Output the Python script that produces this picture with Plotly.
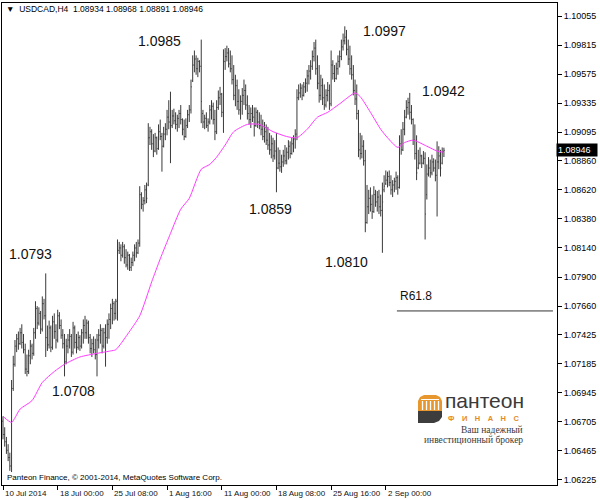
import plotly.graph_objects as go

# ---------------- data ----------------
symbol_title = "USDCAD,H4"
last_quote = ["1.08934", "1.08968", "1.08891", "1.08946"]
last_price = 1.08946

open_ = [
    1.0671, 1.0660, 1.0654, 1.0647, 1.0641, 1.0634, 1.0698, 1.0718, 1.0733, 1.0739,
    1.0735, 1.0744, 1.0736, 1.0730, 1.0714, 1.0712, 1.0725, 1.0733, 1.0727, 1.0744,
    1.0764, 1.0752, 1.0760, 1.0747, 1.0768, 1.0758, 1.0740, 1.0734, 1.0748, 1.0732,
    1.0753, 1.0745, 1.0738, 1.0758, 1.0750, 1.0742, 1.0735, 1.0720, 1.0733, 1.0738,
    1.0741, 1.0728, 1.0748, 1.0736, 1.0732, 1.0740, 1.0733, 1.0744, 1.0750, 1.0744,
    1.0752, 1.0740, 1.0731, 1.0735, 1.0730, 1.0726, 1.0738, 1.0742, 1.0746, 1.0733,
    1.0744, 1.0740, 1.0751, 1.0755, 1.0764, 1.0768, 1.0760, 1.0770, 1.0812, 1.0814,
    1.0808, 1.0815, 1.0806, 1.0800, 1.0808, 1.0798, 1.0802, 1.0808, 1.0814, 1.0810,
    1.0818, 1.0858, 1.0850, 1.0853, 1.0862, 1.0866, 1.0905, 1.0910, 1.0900, 1.0894,
    1.0905, 1.0896, 1.0910, 1.0906, 1.0898, 1.0908, 1.0912, 1.0922, 1.0918, 1.0915,
    1.0923, 1.0919, 1.0916, 1.0921, 1.0925, 1.0920, 1.0912, 1.0906, 1.0915, 1.0924,
    1.0928, 1.0952, 1.0965, 1.0970, 1.0962, 1.0968, 1.0964, 1.0925, 1.0918, 1.0921,
    1.0915, 1.0918, 1.0928, 1.0931, 1.0920, 1.0910, 1.0930, 1.0938, 1.0941, 1.0926,
    1.0968, 1.0972, 1.0975, 1.0966, 1.0962, 1.0953, 1.0940, 1.0948, 1.0935, 1.0928,
    1.0935, 1.0940, 1.0944, 1.0932, 1.0925, 1.0920, 1.0925, 1.0922, 1.0915, 1.0926,
    1.0918, 1.0915, 1.0912, 1.0906, 1.0910, 1.0903, 1.0899, 1.0895, 1.0900, 1.0890,
    1.0894, 1.0880, 1.0884, 1.0881, 1.0885, 1.0890, 1.0886, 1.0893, 1.0898, 1.0892,
    1.0900, 1.0904, 1.0908, 1.0938, 1.0942, 1.0946, 1.0940, 1.0947, 1.0950, 1.0956,
    1.0960, 1.0964, 1.0972, 1.0979, 1.0962, 1.0950, 1.0940, 1.0948, 1.0938, 1.0932,
    1.0940, 1.0944, 1.0933, 1.0965, 1.0958, 1.0954, 1.0962, 1.0968, 1.0972, 1.0980,
    1.0985, 1.0988, 1.0978, 1.0970, 1.0962, 1.0957, 1.0944, 1.0937, 1.0925, 1.0895,
    1.0892, 1.0898, 1.0886, 1.0835, 1.0848, 1.0855, 1.0850, 1.0844, 1.0858, 1.0852,
    1.0856, 1.0848, 1.0845, 1.0862, 1.0867, 1.0870, 1.0873, 1.0868, 1.0862, 1.0866,
    1.0869, 1.0872, 1.0864, 1.0900, 1.0895, 1.0912, 1.0922, 1.0930, 1.0934, 1.0926,
    1.0920, 1.0903, 1.0892, 1.0880, 1.0884, 1.0890, 1.0884, 1.0888, 1.0858, 1.0875,
    1.0880, 1.0876, 1.0885, 1.0880, 1.0874, 1.0885, 1.0890, 1.0884, 1.08934,
]
high = [
    1.0675, 1.0666, 1.0658, 1.0652, 1.0645, 1.0705, 1.0725, 1.0738, 1.0743, 1.0745,
    1.0748, 1.0751, 1.0743, 1.0735, 1.0726, 1.0730, 1.0738, 1.0735, 1.0748, 1.0770,
    1.0766, 1.0765, 1.0762, 1.0774, 1.0772, 1.0793, 1.0750, 1.0754, 1.0750, 1.0758,
    1.0760, 1.0751, 1.0763, 1.0761, 1.0755, 1.0747, 1.0743, 1.0739, 1.0743, 1.0747,
    1.0743, 1.0753, 1.0750, 1.0743, 1.0745, 1.0742, 1.0747, 1.0755, 1.0758, 1.0755,
    1.0754, 1.0743, 1.0739, 1.0741, 1.0739, 1.0743, 1.0747, 1.0751, 1.0748, 1.0748,
    1.0751, 1.0755, 1.0760, 1.0768, 1.0772, 1.0770, 1.0772, 1.0821, 1.0819, 1.0817,
    1.0819, 1.0817, 1.0813, 1.0811, 1.0809, 1.0806, 1.0811, 1.0817, 1.0819, 1.0821,
    1.0865, 1.0860, 1.0856, 1.0866, 1.0868, 1.0917, 1.0914, 1.0912, 1.0908, 1.0909,
    1.0906, 1.0916, 1.0920, 1.0909, 1.0914, 1.0917, 1.0928, 1.0936, 1.0943, 1.0928,
    1.0929, 1.0926, 1.0924, 1.0928, 1.0932, 1.0921, 1.0920, 1.0921, 1.0928, 1.0932,
    1.0953, 1.0973, 1.0977, 1.0973, 1.0971, 1.0969, 1.0986, 1.0928, 1.0924, 1.0926,
    1.0921, 1.0932, 1.0936, 1.0934, 1.0928, 1.0936, 1.0944, 1.0947, 1.0942, 1.0978,
    1.0979, 1.0981, 1.0979, 1.0977, 1.0973, 1.0965, 1.0957, 1.0953, 1.0945, 1.0940,
    1.0946, 1.0953, 1.0949, 1.0940, 1.0932, 1.0930, 1.0932, 1.0930, 1.0930, 1.0928,
    1.0926, 1.0924, 1.0920, 1.0918, 1.0916, 1.0914, 1.0909, 1.0907, 1.0905, 1.0903,
    1.0909, 1.0897, 1.0895, 1.0891, 1.0895, 1.0899, 1.0897, 1.0903, 1.0902, 1.0905,
    1.0907, 1.0912, 1.0945, 1.0949, 1.0950, 1.0949, 1.0951, 1.0954, 1.0961, 1.0965,
    1.0969, 1.0977, 1.0984, 1.0986, 1.0973, 1.0965, 1.0957, 1.0954, 1.0949, 1.0945,
    1.0951, 1.0949, 1.0977, 1.0969, 1.0965, 1.0967, 1.0973, 1.0977, 1.0986, 1.0991,
    1.0997, 1.0994, 1.0986, 1.0981, 1.0973, 1.0965, 1.0953, 1.0949, 1.0928, 1.0909,
    1.0907, 1.0903, 1.0895, 1.0866, 1.0862, 1.0864, 1.0858, 1.0865, 1.0862, 1.0861,
    1.0862, 1.0858, 1.0868, 1.0874, 1.0878, 1.0877, 1.0878, 1.0874, 1.0870, 1.0872,
    1.0877, 1.0874, 1.0907, 1.0912, 1.0918, 1.0928, 1.0936, 1.0938, 1.0942, 1.0932,
    1.0921, 1.0916, 1.0907, 1.0895, 1.0897, 1.0891, 1.0894, 1.0893, 1.0883, 1.0889,
    1.0887, 1.0891, 1.0888, 1.0887, 1.0902, 1.0898, 1.0895, 1.0897, 1.08968,
]
low = [
    1.0656, 1.0650, 1.0644, 1.0638, 1.0630, 1.0629, 1.0696, 1.0716, 1.0728, 1.0730,
    1.0734, 1.0731, 1.0727, 1.0710, 1.0708, 1.0710, 1.0718, 1.0722, 1.0725, 1.0739,
    1.0747, 1.0750, 1.0743, 1.0745, 1.0755, 1.0724, 1.0729, 1.0731, 1.0728, 1.0730,
    1.0739, 1.0731, 1.0736, 1.0747, 1.0739, 1.0731, 1.0708, 1.0718, 1.0727, 1.0731,
    1.0724, 1.0726, 1.0731, 1.0727, 1.0730, 1.0729, 1.0731, 1.0735, 1.0739, 1.0739,
    1.0735, 1.0727, 1.0724, 1.0727, 1.0722, 1.0708, 1.0731, 1.0735, 1.0727, 1.0731,
    1.0716, 1.0735, 1.0739, 1.0747, 1.0751, 1.0754, 1.0755, 1.0754, 1.0809, 1.0803,
    1.0806, 1.0801, 1.0798, 1.0796, 1.0795, 1.0795, 1.0799, 1.0803, 1.0806, 1.0809,
    1.0815, 1.0846, 1.0844, 1.0850, 1.0851, 1.0865, 1.0899, 1.0895, 1.0889, 1.0893,
    1.0891, 1.0895, 1.0903, 1.0877, 1.0897, 1.0903, 1.0907, 1.0912, 1.0884, 1.0913,
    1.0916, 1.0912, 1.0910, 1.0913, 1.0916, 1.0907, 1.0903, 1.0905, 1.0913, 1.0918,
    1.0925, 1.0951, 1.0959, 1.0957, 1.0955, 1.0959, 1.0917, 1.0913, 1.0912, 1.0913,
    1.0910, 1.0916, 1.0920, 1.0916, 1.0903, 1.0908, 1.0928, 1.0932, 1.0922, 1.0909,
    1.0961, 1.0968, 1.0963, 1.0959, 1.0949, 1.0936, 1.0931, 1.0928, 1.0924, 1.0920,
    1.0924, 1.0932, 1.0928, 1.0920, 1.0916, 1.0913, 1.0918, 1.0906, 1.0914, 1.0913,
    1.0912, 1.0907, 1.0903, 1.0901, 1.0899, 1.0895, 1.0891, 1.0888, 1.0885, 1.0887,
    1.0860, 1.0879, 1.0877, 1.0876, 1.0881, 1.0883, 1.0883, 1.0887, 1.0888, 1.0891,
    1.0893, 1.0896, 1.0903, 1.0936, 1.0938, 1.0936, 1.0939, 1.0942, 1.0943, 1.0949,
    1.0953, 1.0961, 1.0968, 1.0957, 1.0945, 1.0934, 1.0936, 1.0932, 1.0928, 1.0930,
    1.0935, 1.0928, 1.0931, 1.0953, 1.0951, 1.0953, 1.0957, 1.0963, 1.0969, 1.0977,
    1.0982, 1.0973, 1.0965, 1.0957, 1.0953, 1.0940, 1.0932, 1.0920, 1.0889, 1.0887,
    1.0888, 1.0882, 1.0827, 1.0834, 1.0842, 1.0844, 1.0838, 1.0843, 1.0848, 1.0844,
    1.0842, 1.0840, 1.0810, 1.0860, 1.0866, 1.0864, 1.0865, 1.0858, 1.0856, 1.0860,
    1.0862, 1.0858, 1.0863, 1.0891, 1.0894, 1.0907, 1.0921, 1.0924, 1.0920, 1.0916,
    1.0899, 1.0887, 1.0870, 1.0879, 1.0883, 1.0880, 1.0883, 1.0821, 1.0854, 1.0873,
    1.0872, 1.0874, 1.0877, 1.0869, 1.0840, 1.0879, 1.0873, 1.0883, 1.08891,
]
close = [
    1.0660, 1.0654, 1.0647, 1.0641, 1.0634, 1.0698, 1.0718, 1.0733, 1.0739, 1.0735,
    1.0744, 1.0736, 1.0730, 1.0714, 1.0712, 1.0725, 1.0733, 1.0727, 1.0744, 1.0764,
    1.0752, 1.0760, 1.0747, 1.0768, 1.0758, 1.0740, 1.0734, 1.0748, 1.0732, 1.0753,
    1.0745, 1.0738, 1.0758, 1.0750, 1.0742, 1.0735, 1.0720, 1.0733, 1.0738, 1.0741,
    1.0728, 1.0748, 1.0736, 1.0732, 1.0740, 1.0733, 1.0744, 1.0750, 1.0744, 1.0752,
    1.0740, 1.0731, 1.0735, 1.0730, 1.0726, 1.0738, 1.0742, 1.0746, 1.0733, 1.0744,
    1.0740, 1.0751, 1.0755, 1.0764, 1.0768, 1.0760, 1.0770, 1.0812, 1.0814, 1.0808,
    1.0815, 1.0806, 1.0800, 1.0808, 1.0798, 1.0802, 1.0808, 1.0814, 1.0810, 1.0818,
    1.0858, 1.0850, 1.0853, 1.0862, 1.0855, 1.0905, 1.0910, 1.0900, 1.0894, 1.0905,
    1.0896, 1.0910, 1.0906, 1.0898, 1.0908, 1.0912, 1.0922, 1.0918, 1.0915, 1.0923,
    1.0919, 1.0916, 1.0921, 1.0925, 1.0920, 1.0912, 1.0906, 1.0915, 1.0924, 1.0928,
    1.0947, 1.0965, 1.0970, 1.0962, 1.0968, 1.0964, 1.0935, 1.0918, 1.0921, 1.0915,
    1.0918, 1.0928, 1.0931, 1.0920, 1.0910, 1.0930, 1.0938, 1.0941, 1.0926, 1.0968,
    1.0972, 1.0975, 1.0966, 1.0962, 1.0953, 1.0940, 1.0948, 1.0935, 1.0928, 1.0935,
    1.0940, 1.0944, 1.0932, 1.0925, 1.0920, 1.0925, 1.0922, 1.0915, 1.0926, 1.0918,
    1.0915, 1.0912, 1.0906, 1.0910, 1.0903, 1.0899, 1.0895, 1.0900, 1.0890, 1.0894,
    1.0880, 1.0884, 1.0881, 1.0885, 1.0890, 1.0886, 1.0893, 1.0898, 1.0892, 1.0900,
    1.0904, 1.0908, 1.0938, 1.0942, 1.0946, 1.0940, 1.0947, 1.0950, 1.0956, 1.0960,
    1.0964, 1.0972, 1.0979, 1.0962, 1.0950, 1.0940, 1.0948, 1.0938, 1.0932, 1.0940,
    1.0944, 1.0933, 1.0965, 1.0958, 1.0954, 1.0962, 1.0968, 1.0972, 1.0980, 1.0985,
    1.0988, 1.0978, 1.0970, 1.0962, 1.0957, 1.0944, 1.0937, 1.0925, 1.0895, 1.0892,
    1.0898, 1.0886, 1.0835, 1.0848, 1.0855, 1.0850, 1.0844, 1.0858, 1.0852, 1.0856,
    1.0848, 1.0845, 1.0852, 1.0865, 1.0870, 1.0873, 1.0868, 1.0862, 1.0866, 1.0869,
    1.0872, 1.0864, 1.0900, 1.0895, 1.0912, 1.0922, 1.0930, 1.0934, 1.0926, 1.0920,
    1.0903, 1.0892, 1.0876, 1.0884, 1.0890, 1.0884, 1.0888, 1.0842, 1.0875, 1.0880,
    1.0876, 1.0885, 1.0880, 1.0874, 1.0885, 1.0890, 1.0880, 1.0893, 1.08946,
]
assert len(open_) == len(high) == len(low) == len(close)
bar_idx = list(range(len(close)))

# moving average (magenta), sampled along the bar index
ma_idx = [0, 5, 10, 17, 23, 30, 36, 45, 55, 63, 66, 73, 80, 87, 92, 98, 104, 109,
          116, 121, 125, 130, 135, 143, 150, 158, 166, 172, 178, 184, 190, 197,
          206, 209, 215, 221, 225, 231, 235, 240, 248, 254, 258]
ma_val = [1.0675, 1.0670, 1.0681, 1.0688, 1.0703, 1.0712, 1.0718, 1.0724, 1.0727,
          1.0729, 1.0730, 1.0743, 1.0758, 1.0786, 1.0805, 1.0826, 1.0846, 1.0855,
          1.0879, 1.0883, 1.0889, 1.0899, 1.0910, 1.0916, 1.0916, 1.0910, 1.0906,
          1.0905, 1.0912, 1.0922, 1.0926, 1.0933, 1.0942, 1.0939, 1.0926, 1.0912,
          1.0905, 1.0897, 1.0901, 1.0903, 1.0898, 1.0894, 1.0893]

# x axis labels (every 32 bars)
date_tick_idx = [0, 32, 64, 96, 128, 160, 192, 224]
date_labels = ["10 Jul 2014", "18 Jul 00:00", "25 Jul 08:00", "1 Aug 16:00",
               "11 Aug 00:00", "18 Aug 08:00", "25 Aug 16:00", "2 Sep 00:00"]

# price scale labels
price_ticks = [1.10055, 1.09815, 1.09575, 1.09335, 1.09095, 1.08860, 1.08620,
               1.08380, 1.08140, 1.07900, 1.07660, 1.07425, 1.07185, 1.06945,
               1.06705, 1.06465, 1.06225]

# level annotations
level_texts = ["1.0793", "1.0708", "1.0985", "1.0859", "1.0997", "1.0810", "1.0942"]
r618_text = "R61.8"
r618_level = 1.0762

# ---------------- layout helpers ----------------
W, H = 600, 500
ML, MR, MT, MB = 2, 43, 3, 15
PW, PH = W - ML - MR, H - MT - MB
BAR_DX = 1.709      # pixels per bar
X0PX = 3            # pixel x of bar 0
PX_PER_UNIT = 12113.0
Y_REF_PX, Y_REF_P = 16, 1.10055


def px(x):
    return (x - ML) / PW


def py(y):
    return (H - MB - y) / PH


x_range = [(ML - X0PX) / BAR_DX, (ML + PW - X0PX) / BAR_DX]
y_range = [Y_REF_P - (MT + PH - Y_REF_PX) / PX_PER_UNIT,
           Y_REF_P + (Y_REF_PX - MT) / PX_PER_UNIT]

FONT = "Liberation Sans, Arial, sans-serif"
SERIF = "Liberation Serif, Times New Roman, serif"
BAR_COLOR = "#3a3a3a"

fig = go.Figure()
fig.add_trace(go.Ohlc(
    x=bar_idx, open=open_, high=high, low=low, close=close,
    increasing=dict(line=dict(color=BAR_COLOR, width=1)),
    decreasing=dict(line=dict(color=BAR_COLOR, width=1)),
    tickwidth=0.45, hoverinfo="skip", showlegend=False,
))
fig.add_trace(go.Scatter(
    x=ma_idx, y=ma_val, mode="lines",
    line=dict(color="#ff3cff", width=1, shape="spline", smoothing=0.6),
    hoverinfo="skip", showlegend=False,
))

annotations = []
# level labels (anchored in data coordinates)
level_anchor = [(15.8, 1.08090), (41.5, 1.06959), (91.3, 1.09849), (156.8, 1.08462),
                (223.5, 1.09931), (200.7, 1.08024), (257.5, 1.09436)]
for txt, (ax, ay) in zip(level_texts, level_anchor):
    annotations.append(dict(x=ax, y=ay, xref="x", yref="y", text=txt, showarrow=False,
                            font=dict(family=FONT, size=14, color="#111111"),
                            xanchor="center", yanchor="middle"))
annotations.append(dict(x=241.7, y=1.07743, xref="x", yref="y", text=r618_text,
                        showarrow=False, font=dict(family=FONT, size=12, color="#111111"),
                        xanchor="center", yanchor="middle"))

# date labels, left-aligned at their ticks
for i, txt in zip(date_tick_idx, date_labels):
    annotations.append(dict(x=i, y=0, xref="x", yref="paper", text=txt, showarrow=False,
                            font=dict(family=FONT, size=8, color="#111111"),
                            xanchor="left", yanchor="top", xshift=0, yshift=-2))

# chart title inside the plot
annotations.append(dict(x=px(4), y=py(9), xref="paper", yref="paper",
                        text="▼\u00a0\u00a0" + symbol_title + "\u00a0\u00a0" + " ".join(last_quote),
                        showarrow=False, font=dict(family=FONT, size=8.5, color="#000000"),
                        xanchor="left", yanchor="middle"))
# copyright line
annotations.append(dict(x=px(5), y=py(477), xref="paper", yref="paper",
                        text="Panteon Finance, © 2001-2014, MetaQuotes Software Corp.",
                        showarrow=False, font=dict(family=FONT, size=8, color="#000000"),
                        xanchor="left", yanchor="middle"))
# current price marker on the price scale
annotations.append(dict(x=1, y=last_price, xref="paper", yref="y", text=last_quote[-1],
                        showarrow=False, font=dict(family=FONT, size=9, color="#ffffff"),
                        bgcolor="#000000", xanchor="left", yanchor="middle",
                        xshift=-1, borderpad=1, width=38, align="left"))

# logo texts
annotations.append(dict(x=px(443), y=py(400), xref="paper", yref="paper", text="пантеон",
                        showarrow=False, font=dict(family=FONT, size=21, color="#3a3a3a"),
                        xanchor="left", yanchor="middle"))
annotations.append(dict(x=px(484), y=py(418.5), xref="paper", yref="paper",
                        text="\u2003".join("ФИНАНС"), showarrow=False,
                        font=dict(family=FONT, size=7.5, color="#e58a1f", weight="bold"),
                        xanchor="center", yanchor="middle"))
annotations.append(dict(x=px(525), y=py(430), xref="paper", yref="paper", text="Ваш надежный",
                        showarrow=False, font=dict(family=SERIF, size=9.5, color="#3a3a3a"),
                        xanchor="right", yanchor="middle"))
annotations.append(dict(x=px(525), y=py(440), xref="paper", yref="paper",
                        text="инвестиционный брокер",
                        showarrow=False, font=dict(family=SERIF, size=9.5, color="#3a3a3a"),
                        xanchor="right", yanchor="middle"))

shapes = []
# R61.8 level line
shapes.append(dict(type="line", xref="x", yref="y", x0=230.5, x1=321.8,
                   y0=r618_level, y1=r618_level, line=dict(color="#333333", width=1)))


def ppath(points):
    d = "M " + " L ".join(f"{px(x):.5f},{py(y):.5f}" for x, y in points) + " Z"
    return d


# logo icon: orange rounded top with white columns, dark base
shapes.append(dict(type="path", xref="paper", yref="paper",
                   path=ppath([(418, 412), (418, 401), (420, 397), (424, 395), (436, 395),
                               (440, 397), (442, 401), (442, 412)]),
                   fillcolor="#e8962e", line=dict(width=0)))
for cx in (422.5, 426.5, 430.5, 434.5, 438.5):
    shapes.append(dict(type="line", xref="paper", yref="paper", x0=px(cx), x1=px(cx),
                       y0=py(401), y1=py(410), line=dict(color="#ffffff", width=1.3)))
shapes.append(dict(type="line", xref="paper", yref="paper", x0=px(421), x1=px(439),
                   y0=py(399.5), y1=py(399.5), line=dict(color="#ffffff", width=1)))
shapes.append(dict(type="path", xref="paper", yref="paper",
                   path=ppath([(418, 411), (442, 411), (442, 417), (439, 421), (434, 423),
                               (418, 423)]),
                   fillcolor="#3d3d3d", line=dict(width=0)))

fig.update_layout(
    width=W, height=H,
    margin=dict(l=ML, r=MR, t=MT, b=MB, pad=0),
    paper_bgcolor="#ffffff", plot_bgcolor="#ffffff",
    showlegend=False,
    annotations=annotations, shapes=shapes,
    xaxis=dict(range=x_range, showgrid=False, zeroline=False, showline=True,
               linecolor="#000000", linewidth=1, mirror=True,
               ticks="outside", ticklen=4, tickcolor="#000000", tickwidth=1,
               tickvals=date_tick_idx, showticklabels=False,
               rangeslider=dict(visible=False), fixedrange=True),
    yaxis=dict(range=y_range, side="right", showgrid=False, zeroline=False,
               showline=True, linecolor="#000000", linewidth=1, mirror=True,
               ticks="outside", ticklen=4, tickcolor="#000000", tickwidth=1,
               tickvals=price_ticks, ticktext=[f"{v:.5f}" for v in price_ticks],
               tickfont=dict(family=FONT, size=9, color="#000000"), fixedrange=True),
)

fig.write_html(
    "out.html",
    config={"displayModeBar": False},
    post_script="document.body.style.margin='0px';document.body.style.overflow='hidden';",
)
